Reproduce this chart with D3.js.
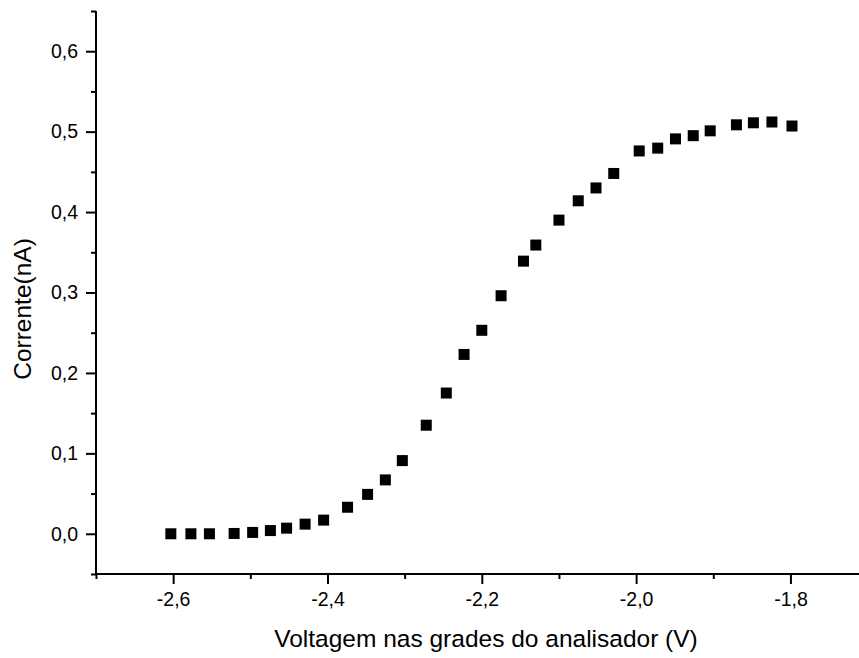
<!DOCTYPE html>
<html>
<head>
<meta charset="utf-8">
<script src="https://cdn.jsdelivr.net/npm/d3@7"></script>
<style>
    html, body { margin: 0; padding: 0; background: #fff; }
    svg { display: block; font-family: "Liberation Sans", Arial, sans-serif; }
    .axis path, .axis line { stroke: #000; stroke-width: 2; }
    .axis text { fill: #000; font-size: 19.5px; }
    .title { fill: #000; font-size: 24.5px; }
</style>
</head>
<body>
<div id="chart"></div>
<script>
const voltage = [
    -2.603, -2.577, -2.553, -2.521, -2.497, -2.474, -2.453, -2.429, -2.405, -2.374,
    -2.348, -2.325, -2.303, -2.272, -2.246, -2.223, -2.200, -2.175, -2.146, -2.130,
    -2.100, -2.075, -2.052, -2.029, -1.996, -1.972, -1.949, -1.926, -1.904, -1.870,
    -1.848, -1.824, -1.798
];
const current = [
    0.000, 0.000, 0.000, 0.0004, 0.0017, 0.004, 0.007, 0.012, 0.017, 0.033,
    0.049, 0.067, 0.091, 0.135, 0.175, 0.223, 0.253, 0.296, 0.339, 0.359,
    0.390, 0.414, 0.430, 0.448, 0.476, 0.4795, 0.491, 0.495, 0.501, 0.5085,
    0.511, 0.512, 0.507
];
const xMajorTicks = [-2.6, -2.4, -2.2, -2.0, -1.8];
const xMinorTicks = [-2.7, -2.5, -2.3, -2.1, -1.9];
const yMajorTicks = [0.0, 0.1, 0.2, 0.3, 0.4, 0.5, 0.6];
const yMinorTicks = [-0.05, 0.05, 0.15, 0.25, 0.35, 0.45, 0.55, 0.65];

const xLabel = "Voltagem nas grades do analisador (V)";
const yLabel = "Corrente(nA)";

const width = 859, height = 658;
const plotLeft = 96, plotTop = 11, plotBottom = 574;

const fmt = d => d3.format(".1f")(d).replace(".", ",").replace("−", "-");

const x = d3.scaleLinear().domain([-2.7, -1.7]).range([plotLeft, plotLeft + 771.6]);
const y = d3.scaleLinear().domain([-0.05, 0.65]).range([plotBottom, plotTop]);

const svg = d3.select("#chart").append("svg")
    .attr("width", width)
    .attr("height", height);

// X-Achse
const xAxis = svg.append("g").attr("class", "axis")
    .attr("transform", `translate(0,${plotBottom})`);
xAxis.call(d3.axisBottom(x).tickValues(xMajorTicks).tickSize(10).tickPadding(8).tickFormat(fmt));
xAxis.append("g")
    .call(d3.axisBottom(x).tickValues(xMinorTicks).tickSize(5).tickFormat(""))
    .select(".domain").remove();
xAxis.select(".domain").attr("d", `M${plotLeft},0H${width + 20}`);

// Y-Achse
const yAxis = svg.append("g").attr("class", "axis")
    .attr("transform", `translate(${plotLeft},0)`);
yAxis.call(d3.axisLeft(y).tickValues(yMajorTicks).tickSize(10).tickPadding(8).tickFormat(fmt));
yAxis.append("g")
    .call(d3.axisLeft(y).tickValues(yMinorTicks).tickSize(5).tickFormat(""))
    .select(".domain").remove();
yAxis.select(".domain").attr("d", `M0,${plotTop}V${plotBottom}`);

svg.selectAll(".axis").attr("font-family", null).attr("font-size", null);

// Punkte
const sq = 11;
svg.append("g")
    .selectAll("rect")
    .data(voltage.map((v, i) => ({ v, c: current[i] })))
    .join("rect")
    .attr("x", d => x(d.v) - sq / 2)
    .attr("y", d => y(d.c) - sq / 2)
    .attr("width", sq)
    .attr("height", sq)
    .attr("fill", "#000");

// Achsentitel
svg.append("text")
    .attr("class", "title")
    .attr("x", 486)
    .attr("y", 647)
    .attr("text-anchor", "middle")
    .text(xLabel);

svg.append("text")
    .attr("class", "title")
    .attr("transform", "translate(31,309) rotate(-90)")
    .attr("text-anchor", "middle")
    .text(yLabel);
</script>
</body>
</html>
